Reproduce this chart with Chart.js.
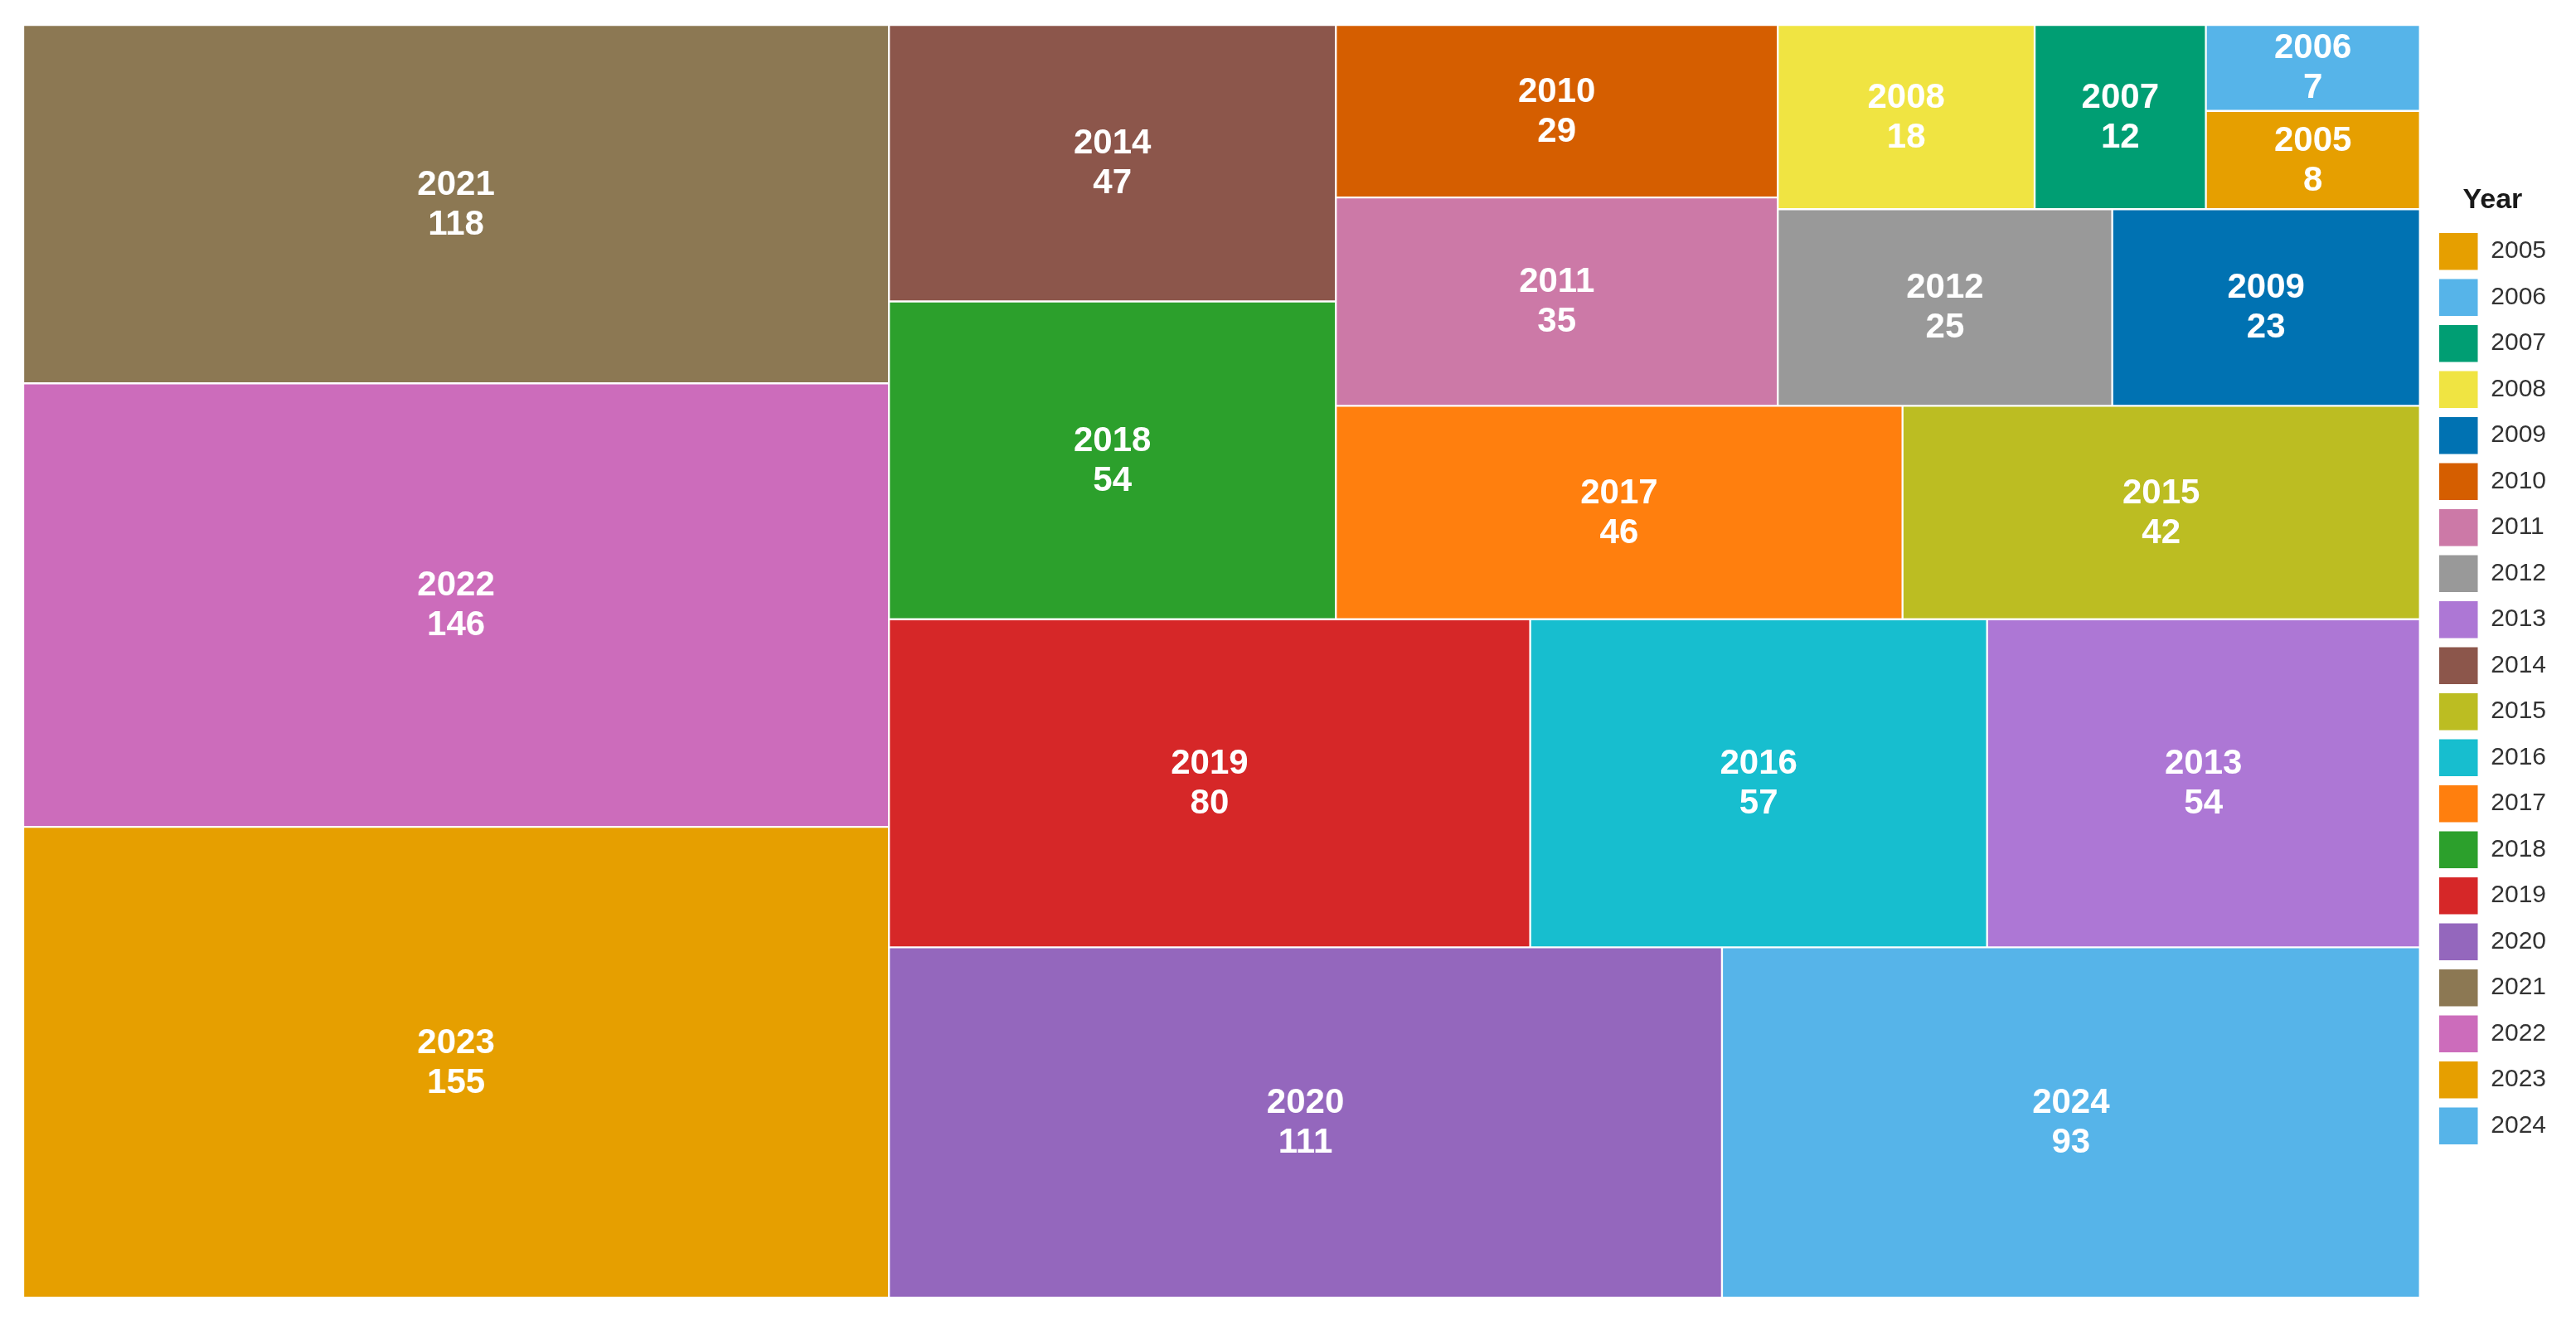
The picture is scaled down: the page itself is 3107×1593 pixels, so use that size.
<!DOCTYPE html>
<html>
<head>
<meta charset="utf-8">
<script src="https://cdn.jsdelivr.net/npm/chart.js@4.4.1/dist/chart.umd.min.js"></script>
<style>
  html, body { margin: 0; padding: 0; background: #fff; }
  #wrap { width: 3107px; height: 1593px; }
</style>
</head>
<body>
<div id="wrap"><canvas id="myChart"></canvas></div>
<script>
const years = ['2005', '2006', '2007', '2008', '2009', '2010', '2011', '2012', '2013', '2014',
  '2015', '2016', '2017', '2018', '2019', '2020', '2021', '2022', '2023', '2024'];

const counts = [8, 7, 12, 18, 23, 29, 35, 25, 54, 47, 42, 57, 46, 54, 80, 111, 118, 146, 155, 93];

const colors = [
  '#E69F00', '#56B4E9', '#009E73', '#F0E442', '#0072B2',
  '#D55E00', '#CC79A7', '#999999', '#AD77D5', '#8C564B',
  '#BCBD22', '#17BECF', '#FF7F0E', '#2CA02C', '#D62728',
  '#9467BD', '#8C7853', '#CC6CBB', '#E69F00', '#56B4E9',
];

// squarified layout in a unit square, filled from the bottom-left corner
function squarify(values) {
  const total = values.reduce((a, b) => a + b, 0);
  const order = values.map((v, i) => i).sort((a, b) => values[b] - values[a]);
  const tiles = [];
  let x = 0, y = 0, w = 1, h = 1, k = 0;

  const worst = (row, side) => {
    const t = row.reduce((a, i) => a + values[i], 0) / total / side;
    return Math.max(...row.map(i => {
      const l = values[i] / total / t;
      return Math.max(l / t, t / l);
    }));
  };

  while (k < order.length) {
    const side = Math.min(w, h);
    const row = [order[k++]];
    while (k < order.length && worst(row.concat(order[k]), side) < worst(row, side)) {
      row.push(order[k++]);
    }
    const t = row.reduce((a, i) => a + values[i], 0) / total / side;
    let off = 0;
    row.forEach(i => {
      const l = values[i] / total / t;
      if (w >= h) tiles[i] = { x0: x, x1: x + t, y0: y + off, y1: y + off + l };
      else tiles[i] = { x0: x + off, x1: x + off + l, y0: y, y1: y + t };
      off += l;
    });
    if (w >= h) { x += t; w -= t; } else { y += t; h -= t; }
  }
  return tiles;
}

const tiles = squarify(counts);

const datasets = years.map((year, i) => ({
  label: year,
  data: [{ x: (tiles[i].x0 + tiles[i].x1) / 2, y: [tiles[i].y0, tiles[i].y1] }],
  backgroundColor: colors[i],
  borderColor: '#ffffff',
  borderWidth: 1.5,
  borderSkipped: false,
  barThickness: (ctx) => {
    const xs = ctx.chart.scales.x;
    const t = tiles[ctx.datasetIndex];
    return xs.getPixelForValue(t.x1) - xs.getPixelForValue(t.x0);
  },
}));

// year and count written in the middle of each tile
const tileLabels = {
  id: 'tileLabels',
  afterDatasetsDraw(chart) {
    const ctx = chart.ctx;
    ctx.save();
    ctx.fillStyle = '#ffffff';
    ctx.font = 'bold 42px "Liberation Sans", Arial, sans-serif';
    ctx.textAlign = 'center';
    ctx.textBaseline = 'middle';
    chart.data.datasets.forEach((ds, i) => {
      const bar = chart.getDatasetMeta(i).data[0];
      if (!bar) return;
      const c = bar.getCenterPoint();
      ctx.fillText(years[i], c.x, c.y - 23);
      ctx.fillText(String(counts[i]), c.x, c.y + 25);
    });
    ctx.restore();
  }
};

Chart.defaults.font.family = '"Liberation Sans", Arial, sans-serif';

const config = {
  type: 'bar',
  data: { datasets: datasets },
  options: {
    responsive: true,
    maintainAspectRatio: false,
    animation: false,
    events: [],
    layout: { padding: { left: 28, top: 30, right: 26, bottom: 28 } },
    scales: {
      x: { type: 'linear', min: 0, max: 1, offset: false, stacked: true, display: false },
      y: {
        type: 'linear', min: 0, max: 1, position: 'right',
        grid: { display: false }, border: { display: false }, ticks: { display: false },
        afterFit: (s) => { s.width = 13; }
      }
    },
    plugins: {
      tooltip: { enabled: false },
      legend: {
        position: 'right',
        align: 'center',
        title: {
          display: true, text: 'Year', color: '#1a1a1a',
          font: { size: 34, weight: 'bold' },
          padding: { top: 20, bottom: 5 }
        },
        labels: {
          boxWidth: 48, boxHeight: 46, padding: 9.5,
          color: '#333333', font: { size: 30 }
        }
      }
    }
  },
  plugins: [tileLabels]
};

const myChart = new Chart(document.getElementById('myChart'), config);
</script>
</body>
</html>
